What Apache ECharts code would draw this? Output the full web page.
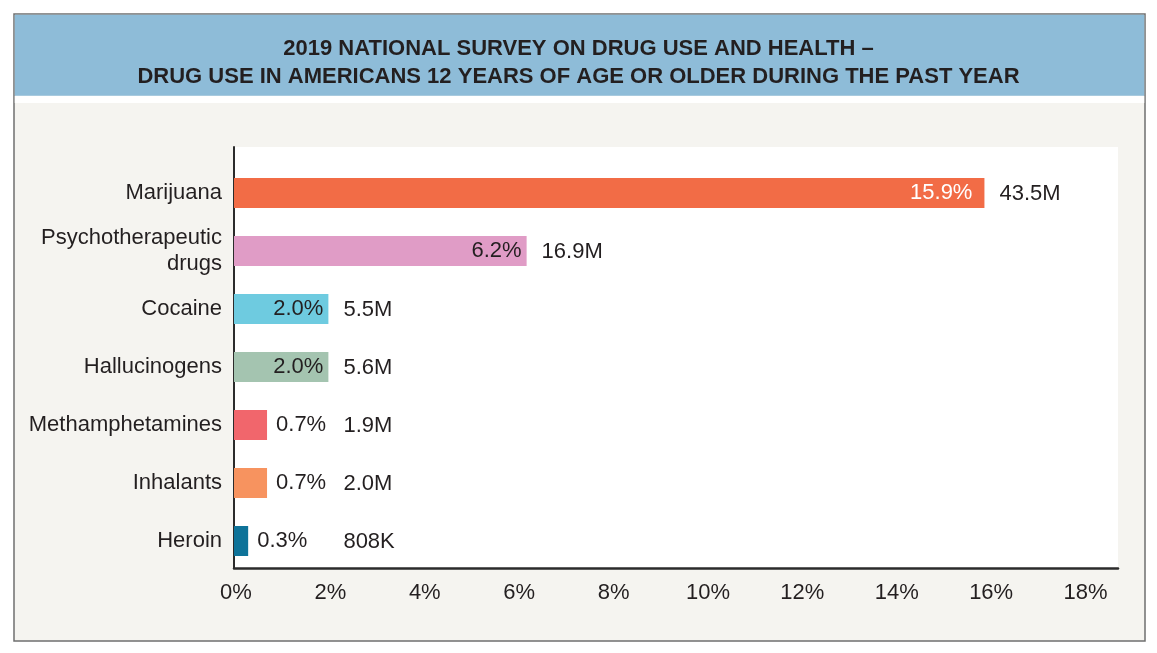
<!DOCTYPE html>
<html>
<head>
<meta charset="utf-8">
<script src="https://cdn.jsdelivr.net/npm/echarts@6/dist/echarts.min.js"></script>
<style>
  html, body { margin: 0; padding: 0; background: #ffffff; }
  #chart { width: 1157px; height: 653px; }
</style>
</head>
<body>
<div id="chart"></div>
<script>
// survey values
var categories = ['Marijuana', 'Psychotherapeutic\ndrugs', 'Cocaine', 'Hallucinogens', 'Methamphetamines', 'Inhalants', 'Heroin'];
var percents = [15.9, 6.2, 2.0, 2.0, 0.7, 0.7, 0.3];
var counts = ['43.5M', '16.9M', '5.5M', '5.6M', '1.9M', '2.0M', '808K'];
var barColors = ['#f26c46', '#e09cc6', '#6ecbe0', '#a4c4b0', '#f1666c', '#f7935f', '#0e7399'];
var xTickStep = 2;

var font = '"Liberation Sans", Arial, Helvetica, sans-serif';
var textColor = '#231f20';

var barData = percents.map(function (v, i) {
    var big = v >= 2;
    return {
        value: v,
        itemStyle: {color: barColors[i]},
        label: {
            position: big ? 'insideRight' : 'right',
            distance: i === 0 ? 12 : (big ? 5 : 9),
            color: i === 0 ? '#ffffff' : textColor
        }
    };
});

var chart = echarts.init(document.getElementById('chart'));

var option = {
    animation: false,
    textStyle: {fontFamily: font},
    title: {
        text: '2019 NATIONAL SURVEY ON DRUG USE AND HEALTH \u2013\nDRUG USE IN AMERICANS 12 YEARS OF AGE OR OLDER DURING THE PAST YEAR',
        left: 'center',
        top: 30,
        textStyle: {
            fontFamily: font,
            fontSize: 22,
            fontWeight: 'bold',
            lineHeight: 28,
            color: textColor,
            align: 'center'
        }
    },
    graphic: [
        {type: 'rect', z: -100, shape: {x: 14, y: 14, width: 1131, height: 627},
            style: {fill: '#f5f4f0', stroke: '#6f6f6f', lineWidth: 1.5}},
        {type: 'rect', z: -99, shape: {x: 14.75, y: 14.75, width: 1129.5, height: 81},
            style: {fill: '#8ebcd8'}},
        {type: 'rect', z: -99, shape: {x: 14.75, y: 96, width: 1129.5, height: 7},
            style: {fill: '#ffffff'}}
    ],
    grid: [
        // frame: white plot area and axis lines
        {left: 234, right: 39, top: 147, bottom: 85, show: true, backgroundColor: '#ffffff', borderWidth: 0},
        // bars
        {left: 234, right: 39, top: 164, bottom: 83}
    ],
    xAxis: [
        {
            type: 'value', gridIndex: 0, min: 0, max: 18.73, interval: xTickStep,
            axisLine: {show: true, lineStyle: {color: '#2b2b2b', width: 2.5}},
            axisTick: {show: false},
            splitLine: {show: false},
            axisLabel: {
                margin: 14, fontSize: 22, color: textColor, fontFamily: font,
                padding: [0, 0, 0, 4],
                formatter: function (v) { return v % xTickStep === 0 ? v + '%' : ''; }
            }
        },
        {
            type: 'value', gridIndex: 1, min: 0, max: 18.73, interval: xTickStep,
            show: false, splitLine: {show: false}
        }
    ],
    yAxis: [
        {
            type: 'value', gridIndex: 0, min: 0, max: 1,
            axisLine: {show: true, lineStyle: {color: '#2b2b2b', width: 2}},
            axisTick: {show: false}, axisLabel: {show: false}, splitLine: {show: false}
        },
        {
            type: 'category', gridIndex: 1, inverse: true, data: categories,
            axisLine: {show: false}, axisTick: {show: false},
            axisLabel: {
                margin: 12, fontSize: 22, lineHeight: 26, color: textColor,
                fontFamily: font, align: 'right'
            }
        }
    ],
    series: [
        {
            name: 'Percent', type: 'bar', xAxisIndex: 1, yAxisIndex: 1,
            barWidth: 30,
            data: barData,
            label: {
                show: true, fontSize: 22, fontFamily: font,
                formatter: function (p) { return p.value.toFixed(1) + '%'; }
            }
        },
        {
            name: 'People', type: 'custom', xAxisIndex: 1, yAxisIndex: 1,
            data: percents.map(function (v, i) { return [v, i]; }),
            renderItem: function (params, api) {
                // counts sit past the bar end, but never left of the 2% mark
                var pt = api.coord([Math.max(api.value(0), 2), api.value(1)]);
                return {
                    type: 'text',
                    x: pt[0] + 15,
                    y: pt[1] + 1,
                    style: {
                        text: counts[params.dataIndex],
                        fill: textColor,
                        font: '22px ' + font,
                        verticalAlign: 'middle',
                        align: 'left'
                    }
                };
            }
        }
    ]
};

chart.setOption(option);
</script>
</body>
</html>
